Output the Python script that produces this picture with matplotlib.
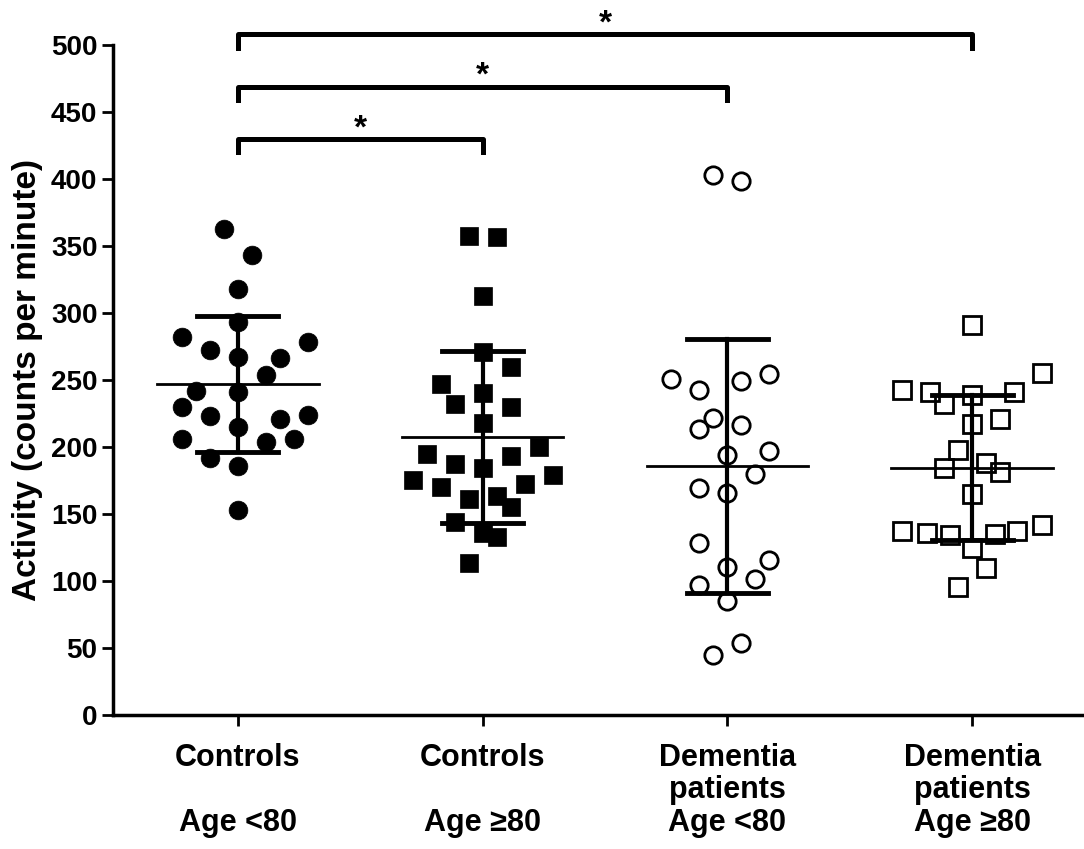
import matplotlib
matplotlib.use("Agg")
import matplotlib.pyplot as plt
import numpy as np

plt.rcParams['font.family'] = ['Liberation Sans', 'DejaVu Sans']

categories = ["Controls\n\nAge <80", "Controls\n\nAge \u226580",
              "Dementia\npatients\nAge <80", "Dementia\npatients\nAge \u226580"]

g1_values = [363, 343, 318, 293, 282, 278, 272, 267, 266, 254, 242, 241, 230,
             224, 223, 221, 215, 206, 206, 204, 192, 186, 153]
g1_slots = [-1, 1, 0, 0, -4, 5, -2, 0, 3, 2, -3, 0, -4, 5, -2, 3, 0, -4, 4, 2, -2, 0, 0]

g2_values = [357.5, 357, 313, 271, 260, 247, 240, 232, 230, 218, 200, 195, 193,
             187, 184, 179, 175, 172, 170, 163, 161, 155, 144, 136, 133, 113]
g2_slots = [-1, 1, 0, 0, 2, -3, 0, -2, 2, 0, 4, -4, 2, -2, 0, 5, -5, 3, -3, 1, -1, 2, -2, 0, 1, -1]

g3_values = [402.6, 398.5, 254.5, 250.7, 249.3, 242.5, 221.6, 216.4, 213.4, 197, 194,
             180, 169, 165.7, 128.6, 115.7, 110.6, 101.5, 97, 85, 53.7, 44.8]
g3_slots = [-1, 1, 3, -4, 1, -2, -1, 1, -2, 3, 0, 2, -2, 0, -2, 3, 0, 2, -2, 0, 1, -1]

g4_values = [291, 255, 242.5, 241, 239, 241, 232, 217, 221, 198, 188, 184, 181, 165,
             137, 135.6, 134, 135, 137, 141.7, 124.6, 109.8, 95.5]
g4_slots = [0, 5, -5, -3, 0, 3, -2, 0, 2, -1, 1, -2, 2, 0, -5, -3.2, -1.6, 1.6, 3.2, 5, 0, 1, -1]

brackets = [(0, 1, 430), (0, 2, 469), (0, 3, 508)]
bracket_labels = ["*", "*", "*"]

yticks = [0, 50, 100, 150, 200, 250, 300, 350, 400, 450, 500]

fig = plt.figure(figsize=(10.84, 8.49), dpi=100)
ax = fig.add_axes([0.104, 0.158, 0.896, 0.789])

slot_w = 0.0572
groups = [(g1_values, g1_slots, 'o', 'black'),
          (g2_values, g2_slots, 's', 'black'),
          (g3_values, g3_slots, 'o', 'white'),
          (g4_values, g4_slots, 's', 'white')]

for i, (vals, slots, mk, fc) in enumerate(groups):
    vals = np.array(vals)
    xs = i + np.array(slots) * slot_w
    if fc == 'black':
        ax.plot(xs, vals, linestyle='none', marker=mk, markersize=13.5 if mk == 'o' else 13,
                markerfacecolor='black', markeredgecolor='black', markeredgewidth=0.5,
                zorder=3, clip_on=False)
    else:
        ax.plot(xs, vals, linestyle='none', marker=mk, markersize=12.5,
                markerfacecolor='none', markeredgecolor='black', markeredgewidth=2.0,
                zorder=3, clip_on=False)
    m = vals.mean()
    sd = vals.std(ddof=1)
    ax.plot([i - 0.33, i + 0.33], [m, m], color='black', lw=2.0, zorder=4)
    ax.plot([i, i], [m - sd, m + sd], color='black', lw=3.0, zorder=4)
    ax.plot([i - 0.165, i + 0.165], [m + sd, m + sd], color='black', lw=3.5, zorder=4)
    ax.plot([i - 0.165, i + 0.165], [m - sd, m - sd], color='black', lw=3.5, zorder=4)

for (a, b, h), lab in zip(brackets, bracket_labels):
    ax.plot([a, a, b, b], [h - 10, h, h, h - 10], color='black', lw=3.6,
            solid_joinstyle='round', clip_on=False, zorder=5)
    ax.text((a + b) / 2, h - 4, lab, ha='center', va='bottom', fontsize=24,
            fontweight='bold', clip_on=False)

ax.set_xlim(-0.511, 3.457)
ax.set_ylim(0, 500)
ax.set_yticks(yticks)
ax.set_yticklabels([str(t) for t in yticks], fontsize=20, fontweight='bold')
ax.set_xticks(range(4))
ax.set_xticklabels(categories, fontsize=22, fontweight='bold', linespacing=1.12, va='top')
ax.tick_params(axis='both', width=2, length=8, color='black')
ax.tick_params(axis='x', pad=12)
ax.tick_params(axis='y', pad=3)
for s in ['top', 'right']:
    ax.spines[s].set_visible(False)
for s in ['left', 'bottom']:
    ax.spines[s].set_linewidth(2.5)
ax.set_ylabel("Activity (counts per minute)", fontsize=24, fontweight='bold', labelpad=6)

fig.savefig("out.png", dpi=100)
